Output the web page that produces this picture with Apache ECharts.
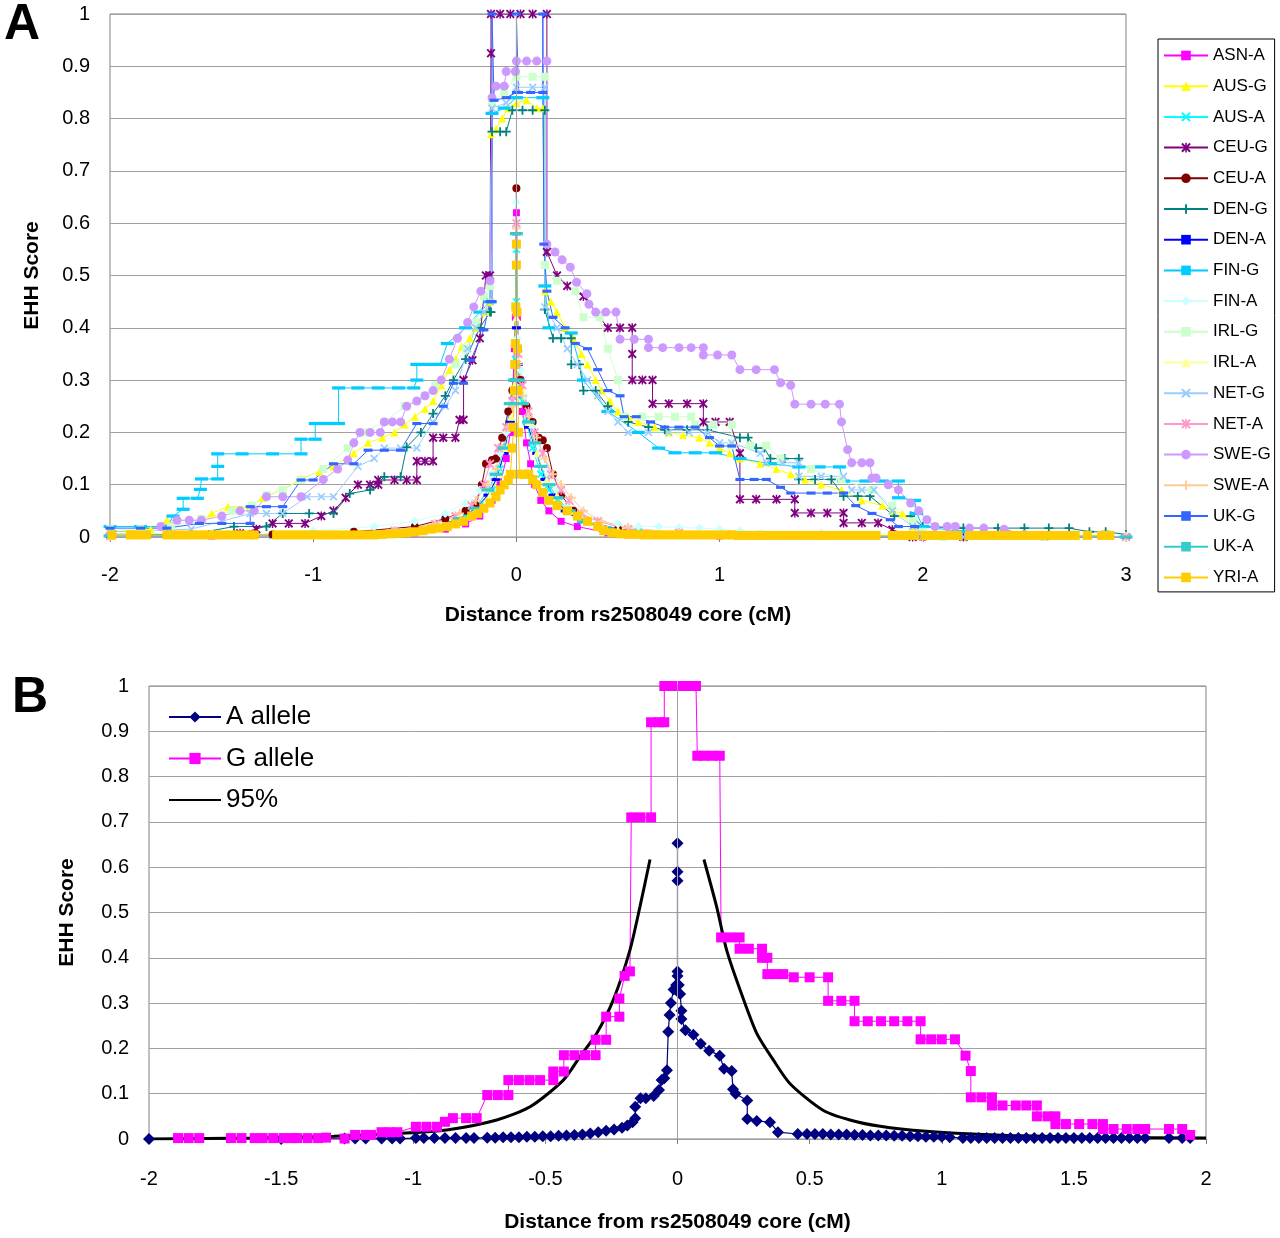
<!DOCTYPE html>
<html>
<head>
<meta charset="utf-8">
<title>EHH rs2508049</title>
<script src="https://cdn.jsdelivr.net/npm/echarts@6/dist/echarts.min.js"></script>
</head>
<body style="margin:0;background:#fff">
<div id="main" style="width:1280px;height:1238px;"></div>
<script>
// ---- panel A: EHH by population, points are [distance cM, EHH] ----
var asnA = [[-2,0.002],[-1.5,0.002],[-1.0,0.003],[-0.7,0.005],[-0.5,0.008],[-0.35,0.015],[-0.25,0.025],[-0.18,0.04],[-0.12,0.07],[-0.08,0.1],[-0.05,0.15],[-0.03,0.2],[-0.02,0.26],[-0.01,0.36],[-0.005,0.42],[0,0.52],[0,0.62],[0.005,0.42],[0.01,0.36],[0.02,0.3],[0.03,0.24],[0.05,0.18],[0.07,0.14],[0.09,0.1],[0.12,0.07],[0.16,0.05],[0.22,0.03],[0.3,0.02],[0.45,0.008],[0.7,0.004],[1.0,0.002],[1.5,0.001],[2.0,0],[3,0]];
var ausG = [[-2,0.01],[-1.8,0.015],[-1.72,0.032],[-1.55,0.032],[-1.5,0.045],[-1.42,0.058],[-1.31,0.058],[-1.25,0.075],[-1.15,0.09],[-1.06,0.112],[-0.97,0.125],[-0.9,0.135],[-0.8,0.16],[-0.73,0.18],[-0.66,0.19],[-0.6,0.2],[-0.55,0.215],[-0.5,0.23],[-0.45,0.245],[-0.41,0.26],[-0.37,0.29],[-0.33,0.32],[-0.3,0.34],[-0.27,0.364],[-0.23,0.38],[-0.2,0.4],[-0.15,0.43],[-0.13,0.45],[-0.125,0.77],[-0.1,0.78],[-0.07,0.8],[-0.04,0.82],[0,0.83],[0.05,0.835],[0.1,0.82],[0.13,0.82],[0.14,0.47],[0.17,0.45],[0.2,0.43],[0.24,0.4],[0.28,0.38],[0.32,0.35],[0.35,0.33],[0.39,0.3],[0.42,0.28],[0.46,0.26],[0.5,0.24],[0.55,0.23],[0.6,0.22],[0.68,0.21],[0.75,0.2],[0.82,0.195],[0.9,0.19],[0.95,0.18],[1.0,0.17],[1.05,0.16],[1.1,0.15],[1.2,0.14],[1.28,0.13],[1.35,0.12],[1.42,0.11],[1.5,0.1],[1.6,0.09],[1.7,0.07],[1.8,0.06],[1.85,0.05],[1.9,0.045],[1.95,0.02],[2.0,0.005],[2.2,0],[2.6,0]];
var ausA = [[-2,0.002],[-1.2,0.003],[-0.8,0.006],[-0.6,0.01],[-0.45,0.015],[-0.35,0.025],[-0.25,0.04],[-0.18,0.06],[-0.12,0.09],[-0.08,0.13],[-0.05,0.17],[-0.03,0.22],[-0.015,0.28],[-0.005,0.34],[0,0.45],[0,0.55],[0.005,0.36],[0.015,0.3],[0.03,0.26],[0.05,0.22],[0.08,0.17],[0.12,0.12],[0.16,0.09],[0.2,0.07],[0.26,0.05],[0.33,0.03],[0.45,0.015],[0.6,0.01],[0.8,0.006],[1.2,0.003],[2,0.001],[3,0]];
var ceuG = [[-1.99,0.005],[-1.7,0.005],[-1.5,0.005],[-1.36,0.007],[-1.28,0.015],[-1.2,0.026],[-1.12,0.026],[-1.04,0.026],[-0.96,0.04],[-0.9,0.05],[-0.84,0.075],[-0.78,0.1],[-0.72,0.1],[-0.68,0.1],[-0.68,0.109],[-0.6,0.109],[-0.54,0.109],[-0.49,0.109],[-0.49,0.145],[-0.45,0.145],[-0.41,0.145],[-0.41,0.19],[-0.36,0.19],[-0.3,0.19],[-0.28,0.224],[-0.26,0.224],[-0.26,0.3],[-0.216,0.338],[-0.18,0.38],[-0.15,0.5],[-0.13,0.5],[-0.125,0.925],[-0.125,1.0],[-0.08,1.0],[-0.03,1.0],[0.02,1.0],[0.08,1.0],[0.15,1.0],[0.15,0.545],[0.2,0.5],[0.25,0.48],[0.33,0.46],[0.45,0.4],[0.51,0.4],[0.57,0.4],[0.57,0.35],[0.57,0.3],[0.62,0.3],[0.67,0.3],[0.67,0.255],[0.75,0.255],[0.84,0.255],[0.92,0.255],[0.92,0.22],[0.98,0.22],[1.05,0.22],[1.1,0.16],[1.1,0.072],[1.18,0.072],[1.28,0.072],[1.37,0.072],[1.37,0.046],[1.45,0.046],[1.53,0.046],[1.61,0.046],[1.61,0.027],[1.7,0.027],[1.78,0.027],[1.85,0.014],[1.95,0],[2.2,0]];
var ceuA = [[-2,0.003],[-1.2,0.005],[-0.8,0.01],[-0.5,0.02],[-0.35,0.035],[-0.25,0.05],[-0.2,0.06],[-0.17,0.1],[-0.15,0.14],[-0.12,0.147],[-0.1,0.15],[-0.07,0.19],[-0.04,0.24],[-0.02,0.28],[-0.005,0.33],[0,0.667],[0.005,0.36],[0.02,0.3],[0.05,0.25],[0.08,0.22],[0.11,0.19],[0.13,0.185],[0.15,0.17],[0.18,0.12],[0.22,0.08],[0.28,0.05],[0.35,0.03],[0.5,0.015],[0.8,0.006],[1.2,0.003],[2,0.001],[3,0]];
var denG = [[-2,0.005],[-1.6,0.005],[-1.39,0.02],[-1.23,0.02],[-1.15,0.045],[-1.02,0.045],[-0.9,0.045],[-0.82,0.083],[-0.72,0.09],[-0.65,0.115],[-0.57,0.115],[-0.54,0.172],[-0.47,0.2],[-0.41,0.236],[-0.35,0.27],[-0.31,0.3],[-0.25,0.34],[-0.18,0.4],[-0.13,0.43],[-0.125,0.43],[-0.12,0.775],[-0.08,0.775],[-0.05,0.775],[-0.02,0.816],[0.03,0.816],[0.08,0.816],[0.14,0.816],[0.14,0.435],[0.18,0.38],[0.22,0.38],[0.27,0.38],[0.27,0.33],[0.31,0.33],[0.33,0.28],[0.39,0.28],[0.45,0.25],[0.55,0.22],[0.65,0.21],[0.73,0.205],[0.84,0.205],[0.94,0.205],[1.1,0.19],[1.14,0.19],[1.18,0.17],[1.22,0.17],[1.25,0.15],[1.32,0.15],[1.39,0.15],[1.39,0.11],[1.47,0.11],[1.55,0.11],[1.61,0.078],[1.68,0.078],[1.74,0.078],[1.86,0.04],[1.94,0.04],[2.0,0.02],[2.2,0.017],[2.37,0.017],[2.5,0.017],[2.62,0.017],[2.72,0.017],[2.82,0.01],[2.9,0.01],[3.0,0.005]];
var denA = [[-2,0.002],[-1,0.004],[-0.6,0.01],[-0.4,0.02],[-0.28,0.035],[-0.2,0.055],[-0.14,0.08],[-0.1,0.11],[-0.06,0.16],[-0.03,0.22],[-0.01,0.3],[0,0.4],[0,0.58],[0.01,0.33],[0.03,0.27],[0.06,0.21],[0.1,0.16],[0.14,0.11],[0.18,0.08],[0.24,0.05],[0.32,0.03],[0.45,0.015],[0.7,0.007],[1.2,0.003],[2,0.001],[3,0]];
var finG = [[-2,0.02],[-1.85,0.02],[-1.73,0.02],[-1.72,0.017],[-1.69,0.04],[-1.64,0.053],[-1.64,0.074],[-1.57,0.074],[-1.555,0.091],[-1.55,0.111],[-1.47,0.111],[-1.47,0.135],[-1.47,0.159],[-1.35,0.159],[-1.2,0.159],[-1.06,0.159],[-1.06,0.187],[-0.99,0.187],[-0.99,0.217],[-0.93,0.217],[-0.875,0.217],[-0.875,0.285],[-0.78,0.285],[-0.68,0.285],[-0.58,0.285],[-0.505,0.285],[-0.49,0.3],[-0.49,0.33],[-0.43,0.33],[-0.375,0.33],[-0.34,0.37],[-0.25,0.4],[-0.18,0.43],[-0.13,0.45],[-0.12,0.81],[-0.06,0.82],[0,0.84],[0.13,0.84],[0.14,0.48],[0.16,0.4],[0.27,0.39],[0.33,0.3],[0.45,0.24],[0.6,0.2],[0.7,0.17],[0.78,0.161],[0.88,0.161],[0.98,0.161],[1.1,0.15],[1.25,0.14],[1.39,0.134],[1.49,0.134],[1.59,0.134],[1.61,0.107],[1.72,0.107],[1.8,0.107],[1.88,0.107],[1.88,0.075],[1.96,0.07],[1.97,0.045],[2.0,0.02],[2.2,0.01],[2.3,0]];
var finA = [[-2,0.005],[-1.5,0.008],[-1,0.012],[-0.7,0.02],[-0.5,0.03],[-0.35,0.045],[-0.25,0.065],[-0.18,0.09],[-0.12,0.12],[-0.08,0.16],[-0.05,0.2],[-0.02,0.26],[-0.005,0.33],[0,0.64],[0.005,0.38],[0.02,0.32],[0.04,0.27],[0.08,0.21],[0.12,0.16],[0.16,0.12],[0.2,0.09],[0.25,0.06],[0.3,0.04],[0.4,0.03],[0.5,0.025],[0.6,0.02],[0.7,0.02],[0.8,0.018],[0.9,0.017],[1.0,0.015],[1.1,0.012],[1.5,0.008],[2,0.004],[3,0.002]];
var irlG = [[-2,0.015],[-1.85,0.015],[-1.7,0.02],[-1.55,0.035],[-1.4,0.05],[-1.3,0.06],[-1.23,0.08],[-1.15,0.09],[-1.06,0.109],[-0.95,0.13],[-0.83,0.17],[-0.75,0.2],[-0.65,0.22],[-0.55,0.25],[-0.45,0.27],[-0.4,0.29],[-0.3,0.33],[-0.25,0.36],[-0.2,0.41],[-0.16,0.46],[-0.13,0.48],[-0.12,0.83],[-0.06,0.85],[0,0.88],[0.08,0.88],[0.14,0.88],[0.14,0.52],[0.2,0.49],[0.29,0.47],[0.33,0.42],[0.41,0.42],[0.45,0.36],[0.5,0.3],[0.53,0.23],[0.62,0.23],[0.7,0.23],[0.78,0.23],[0.86,0.23],[0.88,0.215],[0.97,0.215],[1.06,0.215],[1.06,0.175],[1.15,0.175],[1.23,0.175],[1.3,0.15],[1.45,0.13],[1.6,0.11],[1.75,0.09],[1.85,0.06],[1.95,0.03],[2.0,0.01],[2.1,0],[2.6,0]];
var irlA = [[-2,0.002],[-1,0.004],[-0.6,0.01],[-0.4,0.02],[-0.3,0.03],[-0.2,0.05],[-0.13,0.08],[-0.08,0.12],[-0.05,0.17],[-0.025,0.23],[-0.01,0.29],[0,0.42],[0,0.56],[0.01,0.34],[0.03,0.28],[0.06,0.22],[0.1,0.16],[0.15,0.11],[0.2,0.08],[0.27,0.05],[0.35,0.03],[0.5,0.014],[0.8,0.006],[1.5,0.002],[3,0]];
var netG = [[-2,0.01],[-1.6,0.015],[-1.45,0.03],[-1.31,0.045],[-1.23,0.045],[-1.15,0.045],[-1.03,0.077],[-0.96,0.077],[-0.9,0.077],[-0.78,0.135],[-0.7,0.15],[-0.65,0.17],[-0.57,0.17],[-0.49,0.17],[-0.41,0.22],[-0.35,0.25],[-0.3,0.28],[-0.24,0.36],[-0.2,0.4],[-0.16,0.43],[-0.13,0.45],[-0.12,0.82],[-0.05,0.83],[0,0.86],[0.08,0.86],[0.14,0.86],[0.14,0.44],[0.2,0.4],[0.25,0.36],[0.3,0.33],[0.35,0.3],[0.4,0.27],[0.45,0.24],[0.5,0.22],[0.55,0.2],[0.65,0.2],[0.75,0.2],[0.85,0.2],[0.94,0.2],[1.0,0.18],[1.06,0.18],[1.2,0.16],[1.23,0.142],[1.31,0.142],[1.39,0.142],[1.39,0.116],[1.5,0.116],[1.61,0.116],[1.65,0.09],[1.7,0.09],[1.76,0.09],[1.85,0.05],[1.95,0.02],[2.0,0.005],[2.2,0],[2.6,0]];
var netA = [[-2,0.002],[-1,0.005],[-0.6,0.012],[-0.4,0.025],[-0.3,0.04],[-0.22,0.06],[-0.16,0.1],[-0.13,0.14],[-0.09,0.17],[-0.05,0.21],[-0.02,0.26],[0,0.33],[0,0.6],[0.01,0.35],[0.03,0.29],[0.06,0.24],[0.09,0.2],[0.13,0.16],[0.17,0.12],[0.22,0.09],[0.26,0.07],[0.32,0.045],[0.4,0.03],[0.55,0.015],[0.8,0.008],[1.2,0.004],[2,0.001],[3,0]];
var sweG = [[-1.75,0.02],[-1.67,0.032],[-1.61,0.032],[-1.55,0.032],[-1.45,0.04],[-1.36,0.05],[-1.29,0.05],[-1.23,0.077],[-1.15,0.077],[-1.06,0.077],[-0.95,0.11],[-0.88,0.13],[-0.83,0.147],[-0.8,0.18],[-0.77,0.2],[-0.72,0.2],[-0.67,0.2],[-0.65,0.22],[-0.61,0.22],[-0.57,0.22],[-0.54,0.25],[-0.49,0.26],[-0.45,0.27],[-0.41,0.28],[-0.37,0.3],[-0.33,0.34],[-0.29,0.38],[-0.24,0.41],[-0.21,0.44],[-0.175,0.47],[-0.13,0.49],[-0.12,0.84],[-0.1,0.862],[-0.06,0.862],[-0.05,0.89],[-0.005,0.89],[0,0.91],[0.05,0.91],[0.1,0.91],[0.15,0.91],[0.15,0.56],[0.19,0.545],[0.225,0.53],[0.265,0.516],[0.296,0.487],[0.347,0.465],[0.357,0.445],[0.39,0.43],[0.44,0.43],[0.49,0.43],[0.51,0.378],[0.58,0.378],[0.65,0.378],[0.65,0.362],[0.72,0.362],[0.8,0.362],[0.86,0.362],[0.92,0.362],[0.92,0.348],[0.99,0.348],[1.06,0.348],[1.1,0.32],[1.18,0.32],[1.27,0.32],[1.3,0.295],[1.35,0.29],[1.37,0.254],[1.45,0.254],[1.52,0.254],[1.59,0.254],[1.6,0.22],[1.63,0.167],[1.65,0.142],[1.7,0.142],[1.74,0.142],[1.75,0.113],[1.77,0.113],[1.83,0.1],[1.88,0.09],[1.94,0.065],[1.98,0.05],[2.02,0.033],[2.06,0.02],[2.12,0.02],[2.16,0.02],[2.23,0.017],[2.3,0.017],[2.4,0.015],[2.5,0.005]];
var sweA = [[-2,0.002],[-1,0.005],[-0.6,0.012],[-0.4,0.025],[-0.28,0.045],[-0.2,0.07],[-0.14,0.1],[-0.1,0.13],[-0.07,0.17],[-0.04,0.21],[-0.02,0.25],[0,0.3],[0,0.59],[0.01,0.33],[0.03,0.27],[0.06,0.23],[0.1,0.19],[0.14,0.15],[0.18,0.12],[0.22,0.1],[0.27,0.075],[0.33,0.05],[0.42,0.03],[0.55,0.018],[0.8,0.008],[1.2,0.004],[2,0.001],[3,0]];
var ukG = [[-2,0.017],[-1.85,0.017],[-1.72,0.017],[-1.56,0.026],[-1.45,0.026],[-1.31,0.026],[-1.31,0.058],[-1.23,0.058],[-1.15,0.058],[-1.06,0.109],[-1.0,0.109],[-0.9,0.14],[-0.8,0.14],[-0.73,0.166],[-0.65,0.166],[-0.57,0.166],[-0.49,0.217],[-0.41,0.217],[-0.36,0.25],[-0.31,0.294],[-0.26,0.294],[-0.225,0.338],[-0.16,0.396],[-0.13,0.45],[-0.12,0.45],[-0.12,1.0],[-0.11,0.835],[-0.05,0.84],[0,0.85],[0,1.0],[0.01,0.85],[0.07,0.85],[0.13,0.85],[0.13,1.0],[0.135,0.56],[0.15,0.47],[0.18,0.42],[0.24,0.4],[0.29,0.37],[0.35,0.36],[0.4,0.32],[0.45,0.28],[0.51,0.27],[0.53,0.23],[0.59,0.23],[0.66,0.22],[0.73,0.21],[0.8,0.21],[0.88,0.21],[0.95,0.19],[1.0,0.174],[1.06,0.174],[1.1,0.11],[1.17,0.11],[1.23,0.11],[1.3,0.095],[1.35,0.084],[1.45,0.084],[1.53,0.084],[1.61,0.084],[1.67,0.06],[1.75,0.045],[1.84,0.033],[1.88,0.02],[1.96,0.02],[2.05,0],[2.5,0]];
var ukA = [[-2,0.002],[-1,0.004],[-0.6,0.01],[-0.4,0.02],[-0.28,0.035],[-0.2,0.055],[-0.14,0.09],[-0.1,0.12],[-0.06,0.17],[-0.03,0.255],[-0.01,0.3],[0,0.58],[0.01,0.3],[0.03,0.255],[0.06,0.22],[0.09,0.18],[0.12,0.135],[0.16,0.1],[0.2,0.075],[0.26,0.05],[0.33,0.03],[0.45,0.015],[0.7,0.007],[1.2,0.003],[2,0.001],[3,0]];
var yriA = [[-1.99,0.004],[-1.9,0.004],[-1.86,0.004],[-1.82,0.004],[-1.72,0.004],[-1.68,0.004],[-1.64,0.004],[-1.6,0.004],[-1.56,0.004],[-1.52,0.004],[-1.48,0.004],[-1.44,0.004],[-1.4,0.004],[-1.36,0.004],[-1.32,0.004],[-1.29,0.004],[-1.18,0.004],[-1.14,0.004],[-1.1,0.004],[-1.06,0.004],[-1.02,0.004],[-0.98,0.004],[-0.94,0.004],[-0.9,0.004],[-0.86,0.004],[-0.82,0.004],[-0.78,0.004],[-0.74,0.004],[-0.7,0.004],[-0.66,0.005],[-0.62,0.006],[-0.58,0.007],[-0.54,0.008],[-0.5,0.01],[-0.46,0.012],[-0.42,0.015],[-0.38,0.017],[-0.34,0.02],[-0.3,0.025],[-0.26,0.03],[-0.22,0.04],[-0.19,0.045],[-0.16,0.055],[-0.13,0.065],[-0.1,0.077],[-0.08,0.09],[-0.06,0.1],[-0.04,0.109],[-0.03,0.12],[-0.02,0.17],[-0.015,0.21],[-0.01,0.28],[-0.008,0.33],[-0.005,0.37],[-0.003,0.44],[0,0.52],[0,0.56],[0.003,0.43],[0.005,0.36],[0.008,0.28],[0.01,0.2],[0.015,0.12],[0.04,0.12],[0.06,0.12],[0.08,0.11],[0.1,0.1],[0.13,0.085],[0.16,0.07],[0.2,0.06],[0.25,0.05],[0.3,0.04],[0.35,0.03],[0.4,0.02],[0.43,0.012],[0.47,0.008],[0.51,0.006],[0.55,0.005],[0.59,0.005],[0.63,0.004],[0.67,0.004],[0.71,0.004],[0.75,0.004],[0.79,0.004],[0.83,0.004],[0.87,0.004],[0.91,0.004],[0.95,0.004],[0.99,0.004],[1.03,0.004],[1.06,0.004],[1.09,0.003],[1.13,0.003],[1.17,0.003],[1.21,0.003],[1.25,0.003],[1.29,0.003],[1.33,0.003],[1.37,0.003],[1.41,0.003],[1.45,0.003],[1.49,0.003],[1.53,0.003],[1.57,0.003],[1.61,0.003],[1.65,0.003],[1.69,0.003],[1.73,0.003],[1.77,0.003],[1.85,0.003],[1.89,0.003],[1.93,0.003],[1.96,0.003],[2.01,0.003],[2.05,0.003],[2.09,0.003],[2.13,0.003],[2.17,0.003],[2.23,0.003],[2.27,0.003],[2.31,0.003],[2.35,0.003],[2.39,0.003],[2.43,0.003],[2.47,0.003],[2.51,0.003],[2.55,0.003],[2.59,0.003],[2.63,0.003],[2.67,0.003],[2.71,0.003],[2.75,0.003],[2.81,0.003],[2.88,0.003],[2.92,0.003]];

var popNames = ['ASN-A','AUS-G','AUS-A','CEU-G','CEU-A','DEN-G','DEN-A','FIN-G','FIN-A','IRL-G','IRL-A','NET-G','NET-A','SWE-G','SWE-A','UK-G','UK-A','YRI-A'];
var popData = [asnA, ausG, ausA, ceuG, ceuA, denG, denA, finG, finA, irlG, irlA, netG, netA, sweG, sweA, ukG, ukA, yriA];

// ---- panel B: pooled alleles ----
var aAllele = [[-2,0],[-1.5,0],[-1.26,0.001],[-1.22,0.001],[-1.18,0.001],[-1.12,0.001],[-1.08,0.001],[-1.05,0.001],[-0.99,0.002],[-0.96,0.002],[-0.92,0.002],[-0.88,0.002],[-0.84,0.002],[-0.8,0.002],[-0.77,0.002],[-0.72,0.003],[-0.69,0.003],[-0.66,0.004],[-0.63,0.004],[-0.6,0.004],[-0.57,0.005],[-0.54,0.005],[-0.51,0.006],[-0.48,0.006],[-0.45,0.007],[-0.42,0.008],[-0.39,0.009],[-0.36,0.01],[-0.33,0.012],[-0.3,0.015],[-0.27,0.018],[-0.24,0.021],[-0.21,0.025],[-0.19,0.03],[-0.17,0.037],[-0.16,0.046],[-0.16,0.071],[-0.14,0.09],[-0.12,0.09],[-0.09,0.095],[-0.07,0.108],[-0.06,0.13],[-0.05,0.134],[-0.04,0.152],[-0.035,0.237],[-0.03,0.274],[-0.025,0.3],[-0.015,0.33],[-0.005,0.34],[0,0.36],[0,0.57],[0,0.59],[0,0.653],[0,0.37],[0.005,0.34],[0.01,0.32],[0.015,0.283],[0.015,0.265],[0.03,0.24],[0.06,0.23],[0.088,0.21],[0.12,0.195],[0.16,0.184],[0.176,0.155],[0.205,0.15],[0.21,0.11],[0.22,0.1],[0.264,0.085],[0.264,0.044],[0.3,0.04],[0.35,0.037],[0.38,0.015],[0.455,0.011],[0.49,0.011],[0.52,0.011],[0.55,0.011],[0.58,0.01],[0.61,0.01],[0.64,0.01],[0.67,0.009],[0.7,0.009],[0.73,0.008],[0.76,0.008],[0.79,0.008],[0.82,0.007],[0.85,0.007],[0.88,0.006],[0.91,0.006],[0.94,0.005],[0.97,0.005],[1.0,0.005],[1.03,0.004],[1.08,0.002],[1.11,0.002],[1.14,0.002],[1.17,0.002],[1.2,0.002],[1.23,0.002],[1.26,0.002],[1.29,0.002],[1.32,0.002],[1.35,0.002],[1.38,0.002],[1.41,0.002],[1.44,0.002],[1.47,0.002],[1.5,0.002],[1.53,0.002],[1.56,0.002],[1.59,0.002],[1.62,0.002],[1.65,0.002],[1.68,0.002],[1.71,0.002],[1.74,0.002],[1.77,0.002],[1.86,0.002],[1.91,0.002],[1.94,0.002]];
var gAllele = [[-1.89,0.002],[-1.85,0.002],[-1.81,0.002],[-1.69,0.002],[-1.65,0.002],[-1.6,0.002],[-1.57,0.002],[-1.53,0.002],[-1.49,0.002],[-1.46,0.002],[-1.44,0.002],[-1.4,0.002],[-1.36,0.002],[-1.33,0.003],[-1.26,0.001],[-1.22,0.009],[-1.18,0.009],[-1.16,0.009],[-1.12,0.015],[-1.09,0.015],[-1.06,0.015],[-0.99,0.027],[-0.95,0.027],[-0.91,0.027],[-0.88,0.038],[-0.85,0.046],[-0.8,0.046],[-0.76,0.046],[-0.72,0.097],[-0.68,0.097],[-0.64,0.097],[-0.64,0.13],[-0.6,0.13],[-0.56,0.13],[-0.52,0.13],[-0.47,0.13],[-0.47,0.149],[-0.43,0.149],[-0.43,0.185],[-0.39,0.185],[-0.35,0.185],[-0.31,0.185],[-0.31,0.219],[-0.27,0.219],[-0.27,0.27],[-0.22,0.27],[-0.22,0.31],[-0.2,0.36],[-0.18,0.37],[-0.175,0.71],[-0.14,0.71],[-0.1,0.71],[-0.1,0.92],[-0.07,0.92],[-0.05,0.92],[-0.05,1.0],[-0.02,1.0],[0.02,1.0],[0.05,1.0],[0.07,1.0],[0.075,0.846],[0.1,0.846],[0.13,0.846],[0.16,0.846],[0.165,0.445],[0.2,0.445],[0.235,0.445],[0.235,0.42],[0.27,0.42],[0.32,0.42],[0.32,0.4],[0.34,0.4],[0.34,0.364],[0.37,0.364],[0.4,0.364],[0.44,0.357],[0.5,0.357],[0.57,0.357],[0.57,0.305],[0.62,0.305],[0.67,0.305],[0.67,0.26],[0.72,0.26],[0.77,0.26],[0.82,0.26],[0.87,0.26],[0.92,0.26],[0.92,0.22],[0.96,0.22],[1.0,0.22],[1.05,0.22],[1.09,0.184],[1.11,0.15],[1.11,0.092],[1.15,0.092],[1.19,0.092],[1.19,0.074],[1.23,0.074],[1.28,0.074],[1.32,0.074],[1.36,0.074],[1.36,0.05],[1.4,0.05],[1.43,0.05],[1.43,0.033],[1.47,0.033],[1.52,0.033],[1.57,0.033],[1.61,0.033],[1.61,0.022],[1.65,0.022],[1.7,0.022],[1.74,0.022],[1.77,0.022],[1.86,0.022],[1.91,0.022],[1.94,0.009]];
var ci95Left = [[-2,0],[-1.6,0.002],[-1.3,0.006],[-1.05,0.0126],[-0.873,0.02],[-0.684,0.042],[-0.558,0.071],[-0.432,0.13],[-0.369,0.182],[-0.306,0.233],[-0.243,0.307],[-0.18,0.417],[-0.142,0.513],[-0.104,0.617]];
var ci95Right = [[0.1,0.617],[0.148,0.513],[0.186,0.417],[0.237,0.329],[0.3,0.233],[0.363,0.174],[0.426,0.122],[0.552,0.063],[0.678,0.038],[0.804,0.025],[0.993,0.015],[1.25,0.008],[1.6,0.004],[2.0,0.002]];

// marker shapes
var SYM_X = 'path://M0,1.5L1.5,0L5,3.5L8.5,0L10,1.5L6.5,5L10,8.5L8.5,10L5,6.5L1.5,10L0,8.5L3.5,5Z';
var SYM_STAR = SYM_X + ' M4.2,0L5.8,0L5.8,10L4.2,10Z';
var SYM_PLUS = 'path://M4,0L6,0L6,4L10,4L10,6L6,6L6,10L4,10L4,6L0,6L0,4L4,4Z';
var SYM_DASH = 'path://M0,0L10,0L10,3.5L0,3.5Z';
var SYM_LDASH = 'path://M0,0L14,0L14,3.5L0,3.5Z';

var popStyle = {
	'ASN-A': ['#FF00FF', 'rect', 7],
	'AUS-G': ['#FFFF00', 'triangle', 8],
	'AUS-A': ['#00FFFF', SYM_X, 8],
	'CEU-G': ['#800080', SYM_STAR, 9],
	'CEU-A': ['#800000', 'circle', 8],
	'DEN-G': ['#008080', SYM_PLUS, 9],
	'DEN-A': ['#0000FF', SYM_DASH, 9],
	'FIN-G': ['#00CCFF', SYM_LDASH, 13],
	'FIN-A': ['#CCFFFF', 'diamond', 9],
	'IRL-G': ['#CCFFCC', 'rect', 8],
	'IRL-A': ['#FFFF99', 'triangle', 8],
	'NET-G': ['#99CCFF', SYM_X, 8],
	'NET-A': ['#FF99CC', SYM_STAR, 9],
	'SWE-G': ['#CC99FF', 'circle', 9],
	'SWE-A': ['#FFCC99', SYM_PLUS, 9],
	'UK-G': ['#3366FF', SYM_DASH, 9],
	'UK-A': ['#33CCCC', SYM_LDASH, 13],
	'YRI-A': ['#FFCC00', 'rect', 9]
};

var FONT = 'Arial, "Liberation Sans", sans-serif';
var chart = echarts.init(document.getElementById('main'), null, {renderer: 'canvas'});

var zeroLine = {
	silent: true, symbol: 'none', label: {show: false},
	lineStyle: {color: '#a0a0a0', width: 1, type: 'solid'},
	data: [{xAxis: 0}]
};

var series = [];
popNames.forEach(function (name, i) {
	var st = popStyle[name];
	var s = {
		name: name,
		type: 'line',
		xAxisIndex: 0,
		yAxisIndex: 0,
		data: popData[i],
		symbol: st[1],
		symbolSize: st[2],
		symbolKeepAspect: true,
		showAllSymbol: true,
		lineStyle: {color: st[0], width: 1},
		itemStyle: {color: st[0], borderWidth: 0},
		emphasis: {disabled: true}
	};
	if (i === 0) s.markLine = zeroLine;
	series.push(s);
});

series.push({
	name: 'A allele', type: 'line', xAxisIndex: 1, yAxisIndex: 1,
	data: aAllele, symbol: 'diamond', symbolSize: 12, showAllSymbol: true,
	lineStyle: {color: '#000080', width: 1.2}, itemStyle: {color: '#000080', borderWidth: 0},
	emphasis: {disabled: true},
	markLine: zeroLine
});
series.push({
	name: 'G allele', type: 'line', xAxisIndex: 1, yAxisIndex: 1,
	data: gAllele, symbol: 'rect', symbolSize: 10, showAllSymbol: true,
	lineStyle: {color: '#FF00FF', width: 1}, itemStyle: {color: '#FF00FF', borderWidth: 0},
	emphasis: {disabled: true}
});
[ci95Left, ci95Right].forEach(function (d) {
	series.push({
		name: '95%', type: 'line', xAxisIndex: 1, yAxisIndex: 1,
		data: d, symbol: 'none', smooth: 0.25,
		lineStyle: {color: '#000', width: 3}, itemStyle: {color: '#000'},
		emphasis: {disabled: true}
	});
});

function yAx(grid, gap) {
	return {
		type: 'value', gridIndex: grid, min: 0, max: 1, interval: 0.1,
		name: 'EHH Score', nameLocation: 'middle', nameGap: gap, nameRotate: 90,
		nameTextStyle: {fontFamily: FONT, fontSize: 21, fontWeight: 'bold', color: '#000'},
		axisLine: {show: false}, axisTick: {show: false},
		axisLabel: {fontFamily: FONT, fontSize: 20, color: '#000', margin: 20},
		splitLine: {lineStyle: {color: '#a0a0a0', width: 1}}
	};
}
function xAx(grid, mn, mx, step, gap, lblMargin) {
	return {
		type: 'value', gridIndex: grid, min: mn, max: mx, interval: step,
		name: 'Distance from rs2508049 core (cM)', nameLocation: 'middle', nameGap: gap,
		nameTextStyle: {fontFamily: FONT, fontSize: 21, fontWeight: 'bold', color: '#000'},
		axisLine: {show: false},
		axisTick: {show: true, length: 5, lineStyle: {color: '#808080'}},
		axisLabel: {fontFamily: FONT, fontSize: 20, color: '#000', margin: lblMargin},
		splitLine: {show: false}
	};
}

chart.setOption({
	animation: false,
	backgroundColor: '#fff',
	graphic: [
		{type: 'text', left: 4, top: 0, style: {text: 'A', font: 'bold 50px ' + FONT, fill: '#000'}},
		{type: 'text', left: 12, top: 673, style: {text: 'B', font: 'bold 50px ' + FONT, fill: '#000'}}
	],
	grid: [
		{left: 110, top: 14, width: 1016, height: 523, show: true, borderColor: '#808080', borderWidth: 1, backgroundColor: '#fff'},
		{left: 149, top: 686, width: 1057, height: 453, show: true, borderColor: '#808080', borderWidth: 1, backgroundColor: '#fff'}
	],
	xAxis: [xAx(0, -2, 3, 1, 68, 28), xAx(1, -2, 2, 0.5, 73, 30)],
	yAxis: [yAx(0, 67), yAx(1, 71)],
	legend: [
		{
			data: popNames, orient: 'vertical', left: 1158, top: 39,
			itemWidth: 44, itemHeight: 12, itemGap: 13.7,
			padding: [8, 4, 6, 5], borderColor: '#000', borderWidth: 1, backgroundColor: '#fff',
			textStyle: {fontFamily: FONT, fontSize: 17, color: '#000'},
			selectedMode: false
		},
		{
			data: ['A allele', 'G allele', {name: '95%', itemStyle: {opacity: 0}}],
			orient: 'vertical', left: 163, top: 699,
			itemWidth: 52, itemHeight: 14, itemGap: 15.5,
			textStyle: {fontFamily: FONT, fontSize: 26, color: '#000'},
			selectedMode: false
		}
	],
	series: series
});
</script>
</body>
</html>
